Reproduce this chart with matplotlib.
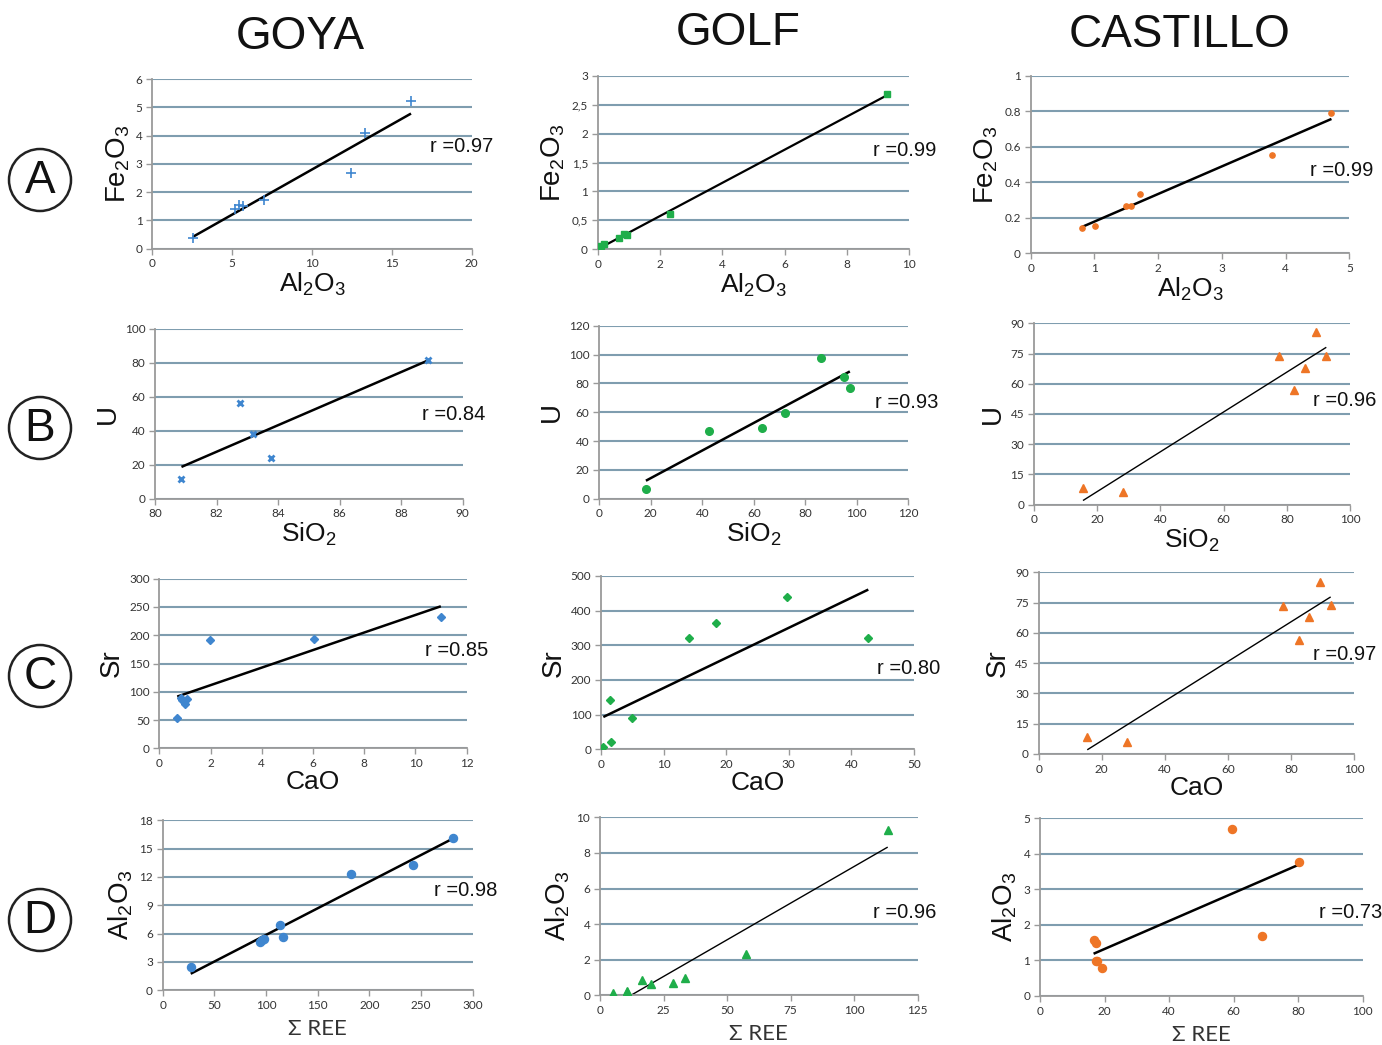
import numpy as np
import matplotlib
matplotlib.use("Agg")
import matplotlib.pyplot as plt
from matplotlib.patches import Ellipse
from matplotlib.ticker import FixedLocator

plt.rcParams['font.family'] = ['Liberation Sans', 'DejaVu Sans']
plt.rcParams['mathtext.fontset'] = 'custom'
plt.rcParams['mathtext.rm'] = 'Liberation Sans'
plt.rcParams['mathtext.default'] = 'regular'

# ---------------- data ----------------
columns = ["GOYA", "GOLF", "CASTILLO"]
rows = ["A", "B", "C", "D"]

# Row A: Al2O3 vs Fe2O3
goya_a_x = [2.53, 5.18, 5.45, 5.66, 6.99, 12.42, 13.34, 16.2]
goya_a_y = [0.38, 1.40, 1.53, 1.51, 1.71, 2.68, 4.08, 5.21]
golf_a_x = [0.11, 0.2, 0.68, 0.84, 0.95, 2.31, 9.3]
golf_a_y = [0.05, 0.09, 0.19, 0.27, 0.25, 0.61, 2.68]
cast_a_x = [0.81, 1.01, 1.50, 1.58, 1.71, 3.79, 4.72]
cast_a_y = [0.145, 0.156, 0.267, 0.267, 0.335, 0.553, 0.793]

# Row B: SiO2 vs U
goya_b_x = [80.86, 82.75, 83.17, 83.77, 88.86]
goya_b_y = [11.4, 56.5, 37.8, 24.1, 81.8]
golf_b_x = [18.1, 42.5, 63.2, 72.1, 86.2, 95.0, 97.3]
golf_b_y = [6.7, 46.7, 48.8, 59.4, 97.3, 84.2, 77.0]
cast_b_x = [15.5, 28.2, 77.4, 82.4, 85.9, 89.3, 92.5]
cast_b_y = [8.3, 6.3, 73.8, 56.7, 67.8, 85.7, 74.0]

# Row C: CaO vs Sr
goya_c_x = [0.70, 0.86, 0.90, 1.00, 1.09, 1.97, 6.03, 10.99]
goya_c_y = [53.6, 89.0, 85.4, 77.8, 87.8, 191.0, 193.0, 232.8]
golf_c_x = [0.37, 1.44, 1.65, 5.0, 14.06, 18.37, 29.66, 42.7]
golf_c_y = [5.8, 142.0, 21.0, 91.0, 322.0, 363.0, 439.0, 320.0]
cast_c_x = [15.4, 28.1, 77.5, 82.5, 85.8, 89.3, 92.6]
cast_c_y = [8.4, 6.1, 73.5, 56.5, 67.7, 85.2, 73.6]

# Row D: sum REE vs Al2O3
goya_d_x = [27.1, 94.2, 96.1, 98.4, 113.9, 116.1, 181.9, 241.9, 281.3]
goya_d_y = [2.47, 5.15, 5.30, 5.44, 6.95, 5.61, 12.32, 13.24, 16.1]
golf_d_x = [4.98, 10.5, 10.75, 16.5, 19.9, 28.7, 33.3, 57.3, 113.2]
golf_d_y = [0.11, 0.26, 0.20, 0.86, 0.64, 0.67, 0.99, 2.3, 9.27]
cast_d_x = [16.6, 17.3, 17.5, 17.7, 19.3, 59.6, 68.9, 80.3]
cast_d_y = [1.57, 1.49, 0.99, 0.99, 0.78, 4.70, 1.69, 3.78]

r_values = [["0.97", "0.99", "0.99"],
            ["0.84", "0.93", "0.96"],
            ["0.85", "0.80", "0.97"],
            ["0.98", "0.96", "0.73"]]

x_labels = [r"Al$_2$O$_3$", r"SiO$_2$", "CaO", "Σ REE"]
y_labels = [r"Fe$_2$O$_3$", "U", "Sr", r"Al$_2$O$_3$"]

# tick values per panel
x_ticks = [[[0, 5, 10, 15, 20], [0, 2, 4, 6, 8, 10], [0, 1, 2, 3, 4, 5]],
           [[80, 82, 84, 86, 88, 90], [0, 20, 40, 60, 80, 100, 120], [0, 20, 40, 60, 80, 100]],
           [[0, 2, 4, 6, 8, 10, 12], [0, 10, 20, 30, 40, 50], [0, 20, 40, 60, 80, 100]],
           [[0, 50, 100, 150, 200, 250, 300], [0, 25, 50, 75, 100, 125], [0, 20, 40, 60, 80, 100]]]
y_ticks = [[[0, 1, 2, 3, 4, 5, 6], [0, 0.5, 1, 1.5, 2, 2.5, 3], [0, 0.2, 0.4, 0.6, 0.8, 1]],
           [[0, 20, 40, 60, 80, 100], [0, 20, 40, 60, 80, 100, 120], [0, 15, 30, 45, 60, 75, 90]],
           [[0, 50, 100, 150, 200, 250, 300], [0, 100, 200, 300, 400, 500], [0, 15, 30, 45, 60, 75, 90]],
           [[0, 3, 6, 9, 12, 15, 18], [0, 2, 4, 6, 8, 10], [0, 1, 2, 3, 4, 5]]]
golf_a_ytick_labels = ["0", "0,5", "1", "1,5", "2", "2,5", "3"]

data = [[(goya_a_x, goya_a_y), (golf_a_x, golf_a_y), (cast_a_x, cast_a_y)],
        [(goya_b_x, goya_b_y), (golf_b_x, golf_b_y), (cast_b_x, cast_b_y)],
        [(goya_c_x, goya_c_y), (golf_c_x, golf_c_y), (cast_c_x, cast_c_y)],
        [(goya_d_x, goya_d_y), (golf_d_x, golf_d_y), (cast_d_x, cast_d_y)]]

# ---------------- style / layout ----------------
W, H = 1382, 1045
BLUE = "#3f86cf"
GREEN = "#1fae4a"
ORANGE = "#ee7526"
col_colors = [BLUE, GREEN, ORANGE]
markers = [[('+', 7, 1.2), ('s', 4.8, 0), ('o', 3.8, 0)],
           [('x', 5, 2.0), ('o', 5.5, 0), ('^', 5.5, 0)],
           [('D', 4.2, 0), ('D', 4.2, 0), ('^', 5.5, 0)],
           [('o', 5.8, 0), ('^', 5.5, 0), ('o', 5.8, 0)]]
line_widths = [[1.8, 1.6, 1.8], [1.8, 1.8, 1.0], [1.8, 1.8, 1.0], [1.8, 1.0, 1.8]]

# axes boxes in pixels: x0, x1, ybottom, ytop
boxes = [[(152.3, 471.7, 248.7, 79.0), (597.7, 909.3, 249.3, 75.7), (1030.7, 1349.3, 253.3, 76.0)],
         [(155.0, 462.7, 498.7, 328.7), (599.3, 908.3, 498.7, 325.7), (1034.0, 1350.0, 504.7, 323.3)],
         [(159.3, 466.7, 748.3, 578.7), (601.0, 914.0, 749.3, 576.0), (1038.7, 1354.0, 754.0, 572.3)],
         [(162.7, 472.7, 990.3, 820.3), (600.0, 917.7, 995.3, 817.3), (1040.0, 1362.7, 996.0, 818.3)]]
r_pos = [[(430, 147), (873, 150), (1310, 171)],
         [(422, 414), (875, 403), (1313, 401)],
         [(425, 651), (877, 668), (1313, 655)],
         [(434, 891), (873, 912), (1319, 912)]]
title_pos = [(300, 37), (738, 33), (1180, 35)]
row_centers = [180, 428, 676, 920]

GRID = "#7f9daf"
SPINE = "#9a9a9a"
TICKFONT = dict(family=['Lato', 'DejaVu Sans'], size=8.5, color="#333333")

fig = plt.figure(figsize=(W / 100, H / 100), dpi=100)
fig.patch.set_facecolor("white")

for i in range(4):
    for j in range(3):
        x0, x1, yb, yt = boxes[i][j]
        ax = fig.add_axes([x0 / W, 1 - yb / H, (x1 - x0) / W, (yb - yt) / H])
        xs = np.array(data[i][j][0])
        ys = np.array(data[i][j][1])
        c = col_colors[j]
        m, ms, mew = markers[i][j]
        if m in ('+', 'x'):
            ax.plot(xs, ys, linestyle='none', marker=m, ms=ms, mew=mew, color=c, zorder=3)
        else:
            ax.plot(xs, ys, linestyle='none', marker=m, ms=ms, color=c, mec=c, zorder=3)
        # least-squares trend line over the data range
        k, b = np.polyfit(xs, ys, 1)
        xl = np.array([xs.min(), xs.max()])
        ax.plot(xl, k * xl + b, color="black", lw=line_widths[i][j], zorder=2,
                solid_capstyle='butt')

        xt = x_ticks[i][j]
        yt_ = y_ticks[i][j]
        ax.set_xlim(xt[0], xt[-1])
        ax.set_ylim(yt_[0], yt_[-1])
        ax.xaxis.set_major_locator(FixedLocator(xt))
        ax.yaxis.set_major_locator(FixedLocator(yt_))
        ax.set_xticklabels([f"{v:g}" for v in xt], fontdict=TICKFONT)
        if i == 0 and j == 1:
            ax.set_yticklabels(golf_a_ytick_labels, fontdict=TICKFONT)
        else:
            ax.set_yticklabels([f"{v:g}" for v in yt_], fontdict=TICKFONT)

        ax.set_axisbelow(True)
        ax.yaxis.grid(True, color=GRID, lw=1.5)
        ax.xaxis.grid(False)
        for s in ('top', 'right'):
            ax.spines[s].set_visible(False)
        for s in ('left', 'bottom'):
            ax.spines[s].set_color(SPINE)
            ax.spines[s].set_linewidth(1.3)
        ax.tick_params(axis='both', direction='out', length=4, width=1.0,
                       color=SPINE, pad=3)
        ax.set_facecolor("white")

        if i == 3:
            ax.set_xlabel(x_labels[i], fontsize=16, family=['Lato', 'DejaVu Sans'],
                          color="#333333", labelpad=6)
        else:
            ax.set_xlabel(x_labels[i], fontsize=19, color="#111111", labelpad=1)
        ax.set_ylabel(y_labels[i], fontsize=20, color="#111111", labelpad=3)

        rx, ry = r_pos[i][j]
        fig.text(rx / W, 1 - ry / H, "r =" + r_values[i][j], fontsize=14.5,
                 ha='left', va='center', color="#111111")

for j in range(3):
    tx, ty = title_pos[j]
    fig.text(tx / W, 1 - ty / H, columns[j], fontsize=33, ha='center', va='center',
             color="#111111")

for i in range(4):
    cy = row_centers[i]
    fig.add_artist(Ellipse((40 / W, 1 - cy / H), 62 / W, 62 / H,
                           transform=fig.transFigure, fill=False,
                           edgecolor="#222222", lw=1.8))
    fig.text(40 / W, 1 - (cy + 1) / H, rows[i], fontsize=33, ha='center', va='center',
             color="#111111")

fig.savefig("out.png", dpi=100, facecolor="white")
